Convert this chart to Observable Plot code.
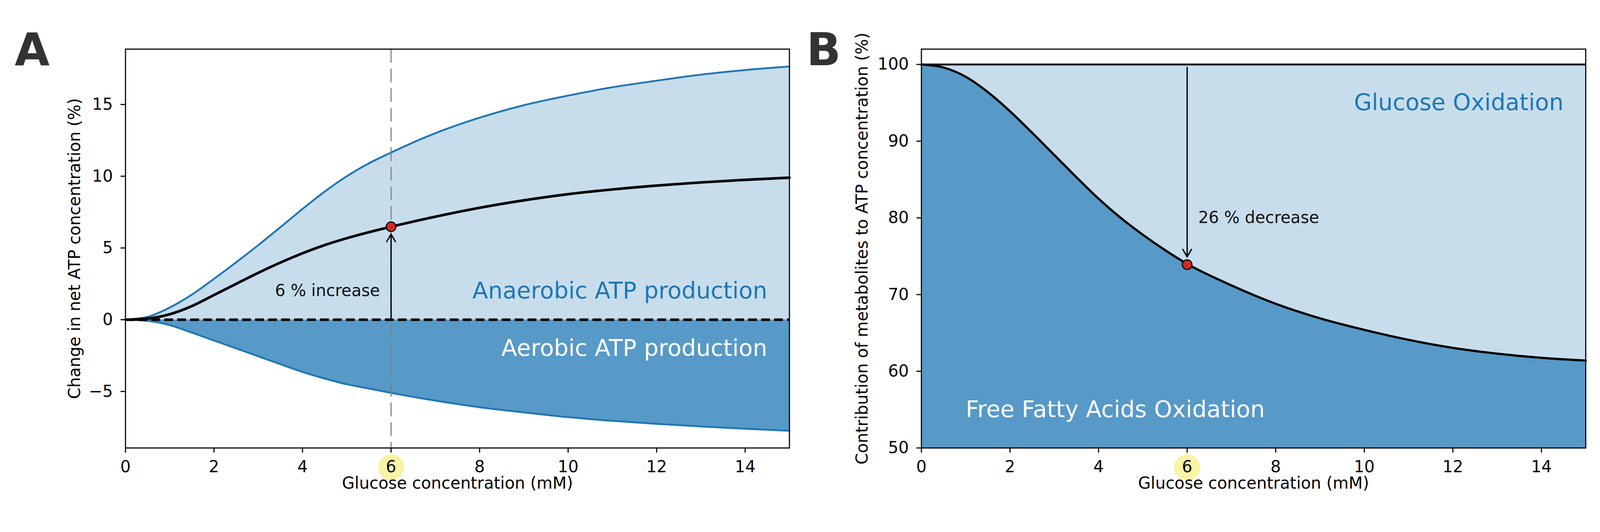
<!DOCTYPE html>
<html><head><meta charset="utf-8">
<script src="https://cdn.jsdelivr.net/npm/d3@7"></script>
<script src="https://cdn.jsdelivr.net/npm/@observablehq/plot@0.6"></script>
<style>
html,body{margin:0;padding:0;background:#fff;overflow:hidden;}
#fig{position:relative;width:4316px;height:1362px;overflow:hidden;background:#fff;transform-origin:0 0;}
#panelA,#panelB{position:absolute;top:0;}
#panelA{left:0}
#panelB{left:2158px}
</style></head><body>
<div id="fig"><div id="panelA"></div><div id="panelB"></div></div>
<script>
// ---- data ----
const glucose   = [0,0.5,1,1.5,2,2.5,3,3.5,4,4.5,5,5.5,6,7,8,9,10,11,12,13,14,15];
const anaerobic = [0,0.2,0.85,1.75,2.85,4.0,5.2,6.45,7.72,8.93,10.0,10.9,11.65,13.0,14.08,14.95,15.62,16.2,16.66,17.08,17.4,17.65];
const aerobic   = [0,-0.08,-0.38,-0.9,-1.45,-2.0,-2.55,-3.1,-3.64,-4.1,-4.5,-4.8,-5.1,-5.64,-6.1,-6.46,-6.79,-7.05,-7.26,-7.44,-7.6,-7.74];
const netATP    = [0,0.08,0.38,0.95,1.72,2.5,3.27,3.98,4.63,5.2,5.68,6.1,6.48,7.18,7.8,8.32,8.75,9.08,9.35,9.57,9.75,9.9];
const ffaShare  = [100,99.6,98.4,96.4,93.9,91.1,88.2,85.3,82.5,80.0,77.8,75.8,74.0,71.2,68.8,66.9,65.4,64.1,63.05,62.3,61.75,61.4];
const xTicks  = [0,2,4,6,8,10,12,14];
const yTicksA = [-5,0,5,10,15];
const yTicksB = [50,60,70,80,90,100];
const highlightX = [6];
const markerA = [{x:6, from:0, to:6.48}];
const markerB = [{x:6, from:100, to:73.9}];
const endLabelsA = [
  {x:14.5, y:2,  text:"Anaerobic ATP production", fill:"#1f77b4"},
  {x:14.5, y:-2, text:"Aerobic ATP production",   fill:"#ffffff"}
];
const noteA = [{x:5.75, y:2, text:"6 % increase"}];
const endLabelsB = [{x:14.5, y:95, text:"Glucose Oxidation", fill:"#1f77b4"}];
const startLabelsB = [{x:1, y:55, text:"Free Fatty Acids Oxidation", fill:"#ffffff"}];
const noteB = [{x:6.25, y:80, text:"26 % decrease"}];

const LIGHT = "#c7ddec", DARK = "#5799c7", BLUE = "#1f77b4", RED = "#d62728";
const FONT = '"DejaVu Sans", sans-serif';
const FS = 44, BIG = 62;
const fmt = d => d < 0 ? "\u2212" + Math.abs(d) : String(d);
const style = {fontFamily: FONT, fontSize: FS + "px", color: "black", background: "transparent", overflow: "visible", maxWidth: "none"};

const rowsA = glucose.map((x,i) => ({x, an: anaerobic[i], ae: aerobic[i], net: netATP[i]}));
const rowsB = glucose.map((x,i) => ({x, ffa: ffaShare[i]}));

function commonAxes(yTicks) {
  return [
    Plot.dot(highlightX, {x: d => d, frameAnchor: "bottom", dy: 52, r: 35, fill: "#fbf3a5"}),
    Plot.axisX({ticks: xTicks, tickFormat: fmt, tickSize: 13, tickPadding: 21, fontSize: FS, strokeWidth: 3, label: null, anchor: "bottom"}),
    Plot.axisY({ticks: yTicks, tickFormat: fmt, tickSize: 13, tickPadding: 21, fontSize: FS, strokeWidth: 3, label: null, anchor: "left"}),
    Plot.frame({stroke: "black", strokeWidth: 3})
  ];
}

const chartA = Plot.plot({
  width: 2158, height: 1362,
  marginLeft: 338, marginRight: 29, marginTop: 132, marginBottom: 154,
  style,
  x: {domain: [0, 15], axis: null},
  y: {domain: [-8.94, 18.86], axis: null},
  marks: [
    Plot.areaY(rowsA, {x: "x", y1: 0, y2: "an", fill: LIGHT, curve: "monotone-x"}),
    Plot.areaY(rowsA, {x: "x", y1: "ae", y2: 0, fill: DARK, curve: "monotone-x"}),
    Plot.line(rowsA, {x: "x", y: "an", stroke: BLUE, strokeWidth: 5, curve: "monotone-x"}),
    Plot.line(rowsA, {x: "x", y: "ae", stroke: BLUE, strokeWidth: 5, curve: "monotone-x"}),
    Plot.ruleX(highlightX, {x: d => d, stroke: "#808080", strokeWidth: 3, strokeDasharray: "37,16"}),
    Plot.line(rowsA, {x: "x", y: "net", stroke: "black", strokeWidth: 7, curve: "monotone-x"}),
    Plot.ruleY([0], {stroke: "black", strokeWidth: 7, strokeDasharray: "24,11"}),
    Plot.arrow(markerA, {x1: "x", y1: "from", x2: "x", y2: "to", stroke: "black", strokeWidth: 3.5, headLength: 10, headAngle: 60, insetEnd: 20}),
    Plot.dot(markerA, {x: "x", y: "to", r: 13, fill: RED, stroke: "black", strokeWidth: 3}),
    Plot.text(endLabelsA, {x: "x", y: "y", text: "text", fill: "fill", textAnchor: "end", fontSize: BIG}),
    Plot.text(noteA, {x: "x", y: "y", text: "text", fill: "#111", textAnchor: "end", fontSize: FS}),
    ...commonAxes(yTicksA),
    Plot.text(["Glucose concentration (mM)"], {text: d => d, frameAnchor: "bottom", textAnchor: "middle", dy: 110, fontSize: FS}),
    Plot.text(["Change in net ATP concentration (%)"], {text: d => d, frameAnchor: "left", textAnchor: "middle", rotate: -90, dx: -137, fontSize: FS}),
    Plot.text(["A"], {text: d => d, frameAnchor: "top-left", textAnchor: "start", dx: -299, dy: -43, fontSize: 122, fontWeight: "bold", fill: "#333"})
  ]
});

const chartB = Plot.plot({
  width: 2158, height: 1362,
  marginLeft: 327, marginRight: 39, marginTop: 132, marginBottom: 154,
  style,
  x: {domain: [0, 15], axis: null},
  y: {domain: [50, 102], axis: null},
  marks: [
    Plot.areaY(rowsB, {x: "x", y1: 50, y2: "ffa", fill: DARK, curve: "monotone-x"}),
    Plot.areaY(rowsB, {x: "x", y1: "ffa", y2: 100, fill: LIGHT, curve: "monotone-x"}),
    Plot.line(rowsB, {x: "x", y: "ffa", stroke: "black", strokeWidth: 6, curve: "monotone-x"}),
    Plot.ruleY([100], {stroke: "black", strokeWidth: 5}),
    Plot.arrow(markerB, {x1: "x", y1: "from", x2: "x", y2: "to", stroke: "black", strokeWidth: 3.5, headLength: 10, headAngle: 60, insetStart: 8, insetEnd: 21}),
    Plot.dot(markerB, {x: "x", y: "to", r: 13, fill: RED, stroke: "black", strokeWidth: 3}),
    Plot.text(endLabelsB, {x: "x", y: "y", text: "text", fill: "fill", textAnchor: "end", fontSize: BIG}),
    Plot.text(startLabelsB, {x: "x", y: "y", text: "text", fill: "fill", textAnchor: "start", fontSize: BIG}),
    Plot.text(noteB, {x: "x", y: "y", text: "text", fill: "#111", textAnchor: "start", fontSize: FS}),
    ...commonAxes(yTicksB),
    Plot.text(["Glucose concentration (mM)"], {text: d => d, frameAnchor: "bottom", textAnchor: "middle", dy: 110, fontSize: FS}),
    Plot.text(["Contribution of metabolites to ATP concentration (%)"], {text: d => d, frameAnchor: "left", textAnchor: "middle", rotate: -90, dx: -159, fontSize: FS}),
    Plot.text(["B"], {text: d => d, frameAnchor: "top-left", textAnchor: "start", dx: -310, dy: -43, fontSize: 122, fontWeight: "bold", fill: "#333"})
  ]
});

document.getElementById("panelA").appendChild(chartA);
document.getElementById("panelB").appendChild(chartB);

// fit the 4316px-wide figure into the actual viewport
function fit() {
  const s = window.innerWidth / 4316;
  document.getElementById("fig").style.transform = Math.abs(s - 1) > 0.002 ? `scale(${s})` : "";
}
fit();
window.addEventListener("resize", fit);
</script>
</body></html>
